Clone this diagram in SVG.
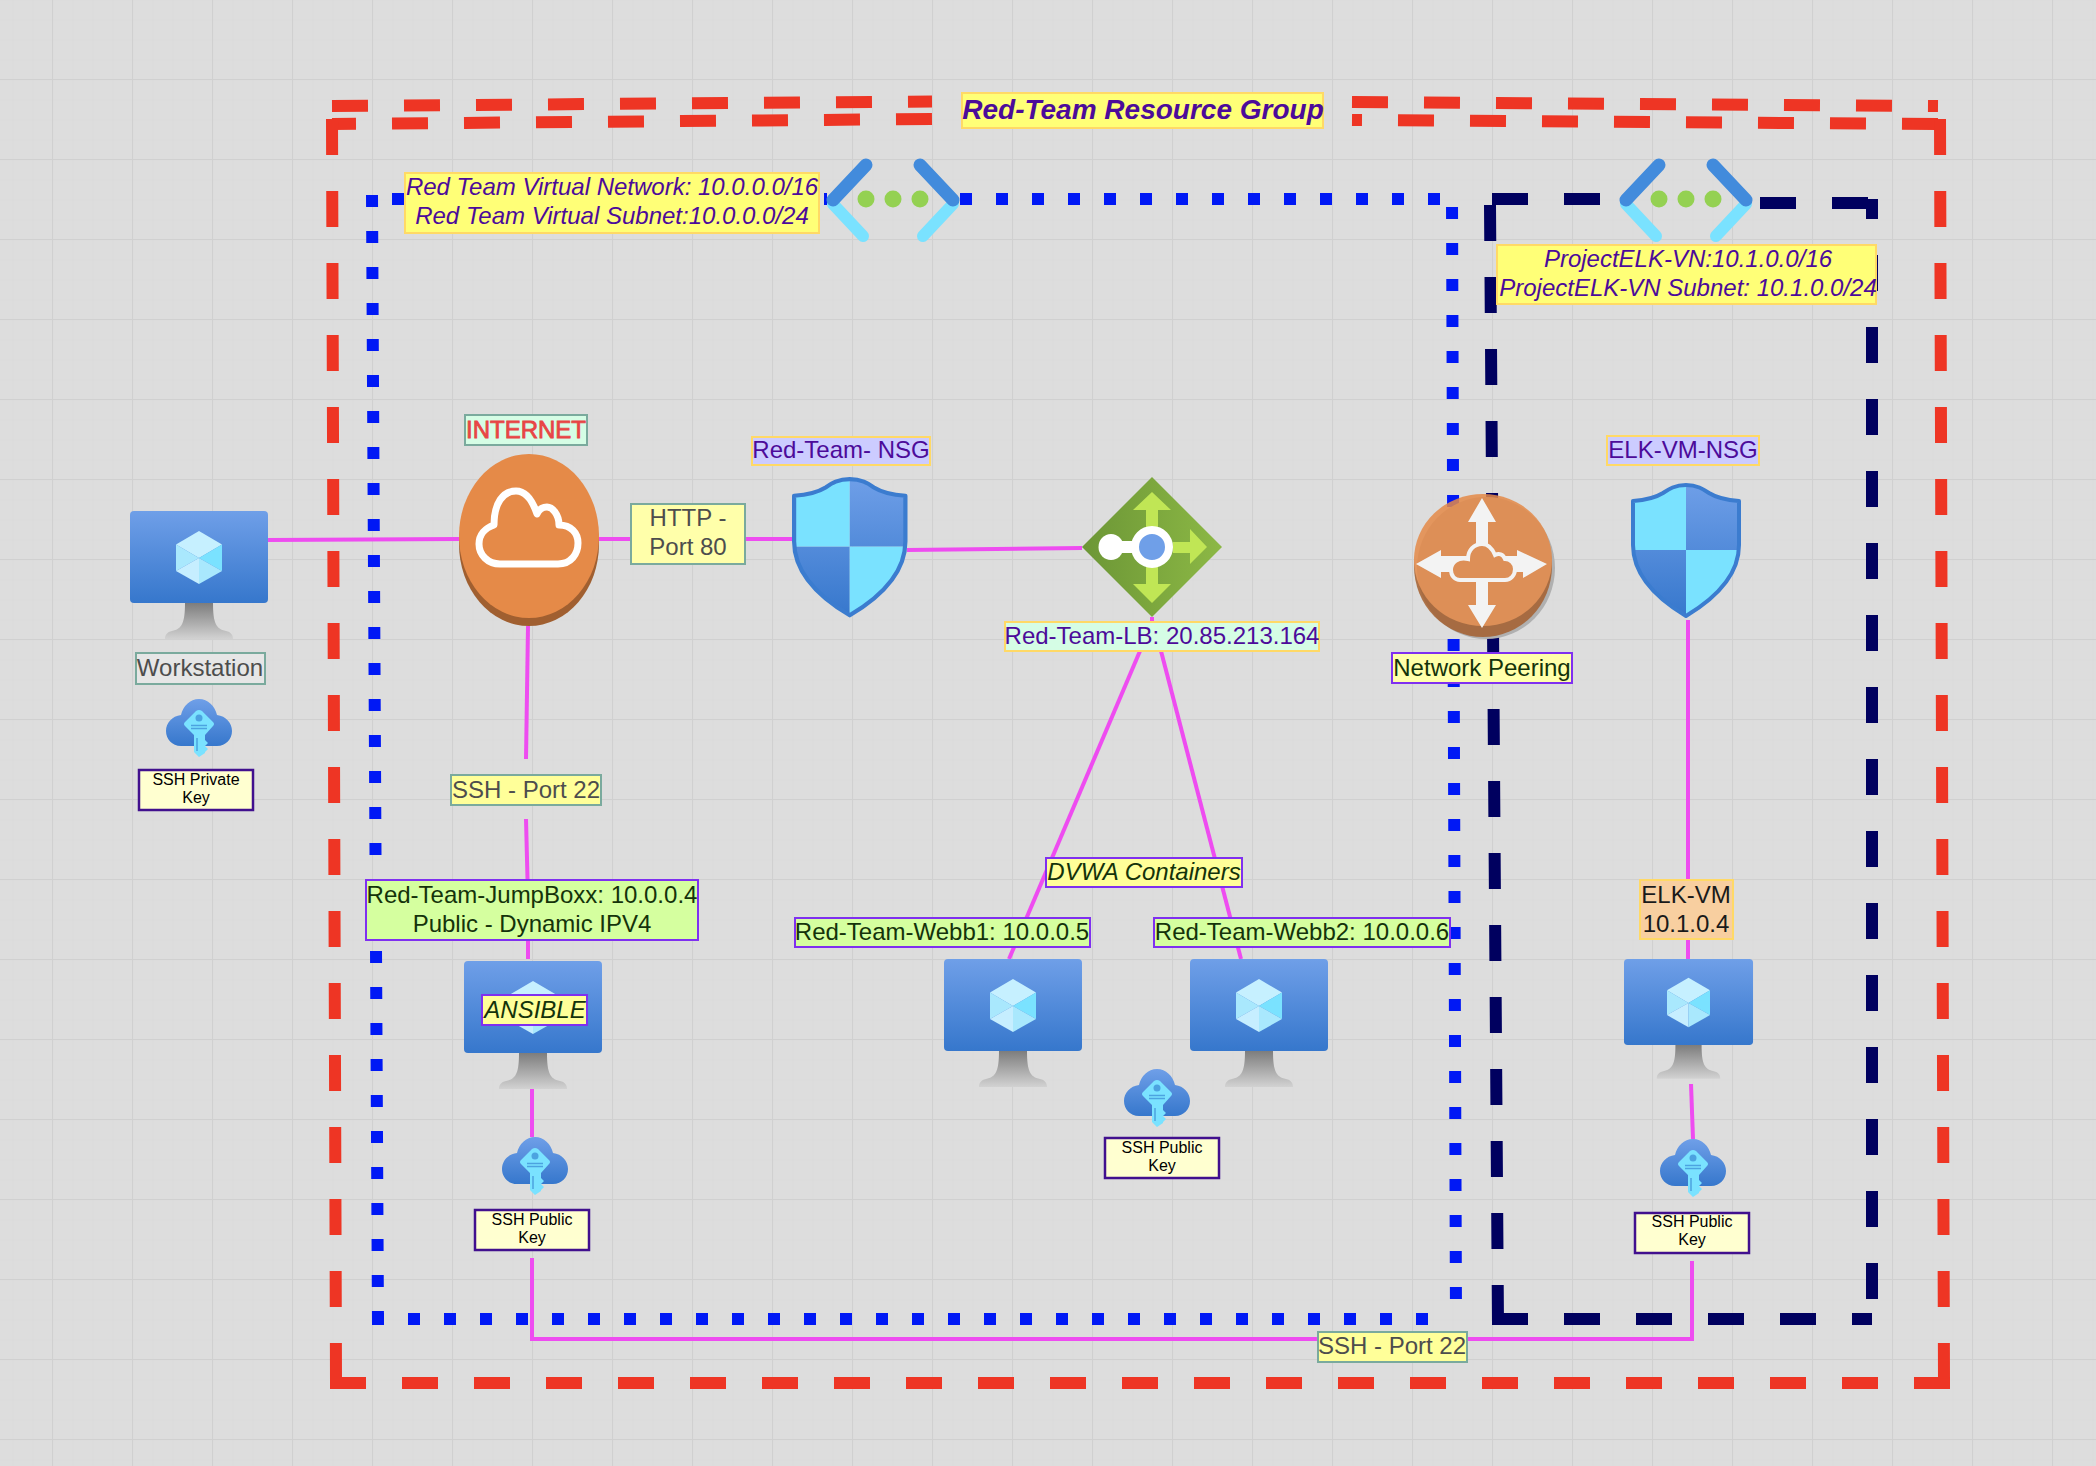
<svg xmlns="http://www.w3.org/2000/svg" width="2096" height="1466" viewBox="0 0 2096 1466">
<style>
text{font-family:"Liberation Sans",Arial,Helvetica,sans-serif;font-size:24px;text-anchor:middle}
.red{fill:none;stroke:#ee3524;stroke-width:12;stroke-dasharray:36 36}
.blue{fill:none;stroke:#0018f5;stroke-width:12;stroke-dasharray:12 24}
.navy{fill:none;stroke:#00005f;stroke-width:12;stroke-dasharray:36 36}
.conn{fill:none;stroke:#ee4cf0;stroke-width:4}
.green-b{stroke:#7aaa9d;stroke-width:2}
.gold-b{stroke:#ffd966;stroke-width:2}
.vio-b{stroke:#7f30f0;stroke-width:2}
.ind-b{stroke:#41108e;stroke-width:2.500}
.grey{fill:#4d4d4d}
.ind{fill:#4c0b9a}
.dk{fill:#14330a}
.small{font-size:16px;fill:#000}
.it{font-style:italic}
</style>
<defs>
<pattern id="minor" width="20" height="20" patternUnits="userSpaceOnUse" x="12.500" y="19.500"><path d="M0.500 0V20M0 0.500H20" fill="none" stroke="#dadada" stroke-width="1"/></pattern>
<pattern id="major" width="80" height="80" patternUnits="userSpaceOnUse" x="52" y="79"><path d="M0.500 0V80M0 0.500H80" fill="none" stroke="#d0d0d0" stroke-width="1"/></pattern>
<linearGradient id="gBlue" x1="0" y1="0" x2="0" y2="1"><stop offset="0" stop-color="#6f9fe8"/><stop offset="1" stop-color="#3677cc"/></linearGradient>
<linearGradient id="gShield" gradientUnits="userSpaceOnUse" x1="0" y1="0" x2="0" y2="135"><stop offset="0" stop-color="#6f9fe8"/><stop offset="1" stop-color="#3677cc"/></linearGradient>
<linearGradient id="gStand" x1="0" y1="0" x2="0" y2="1"><stop offset="0" stop-color="#7d7d7d"/><stop offset="1" stop-color="#d2d2d2"/></linearGradient>
<linearGradient id="gLb" x1="0" y1="0" x2="1" y2="0"><stop offset="0" stop-color="#6c9636"/><stop offset="1" stop-color="#8cb845"/></linearGradient>
<g id="vm">
<rect x="0" y="0" width="138" height="92" rx="4" fill="url(#gBlue)"/>
<path d="M55 92H83C83 112 86 118 96 120C101 121 103 124 103 128H35C35 124 37 121 42 120C52 118 55 112 55 92Z" fill="url(#gStand)"/>
<path d="M69 20L92 33.500L69 47L46 33.500Z" fill="#c6f0ff"/>
<path d="M92 33.500V60L69 47Z" fill="#7ae2ff"/>
<path d="M46 33.500V60L69 47Z" fill="#a9e8fd"/>
<path d="M46 60L69 47V73Z" fill="#c6eeff"/>
<path d="M92 60L69 47V73Z" fill="#a9e8fd"/>
</g>
<g id="key">
<path d="M15 47C6 47 0 40 0 32C0 24 6 17 15 16C17 7 24 0 33 0C42 0 49 7 51 16C60 17 66 24 66 32C66 40 60 47 51 47Z" fill="url(#gBlue)"/>
<path d="M30 12Q33 10 36 12L47 23Q49 25 47 27L39 36V41L42 44L39 47L42 50L39 53V54L33 58L28 53V36L19 27Q17 25 19 23Z" fill="#7ae2ff"/>
<circle cx="33" cy="19" r="3.500" fill="#4ca3e0"/>
<path d="M25 26.500H41M25 29.500H41M31 39V52" fill="none" stroke="#4ca3e0" stroke-width="1.500"/>
</g>
<clipPath id="shClip"><path d="M55 2C66 2 72 6 78 10C86 15 94 17 108 18V62C108 95 80 118 55 133C30 118 2 95 2 62V18C16 17 24 15 32 10C38 6 44 2 55 2Z"/></clipPath>
<g id="shield">
<g clip-path="url(#shClip)">
<rect x="0" y="0" width="55" height="67" fill="#7ae2ff"/>
<rect x="55" y="0" width="55" height="67" fill="url(#gShield)"/>
<rect x="0" y="67" width="55" height="68" fill="url(#gShield)"/>
<rect x="55" y="67" width="55" height="68" fill="#7ae2ff"/>
</g>
<path d="M55 2C66 2 72 6 78 10C86 15 94 17 108 18V62C108 95 80 118 55 133C30 118 2 95 2 62V18C16 17 24 15 32 10C38 6 44 2 55 2Z" fill="none" stroke="#3b7ccf" stroke-width="4" stroke-linejoin="round"/>
</g>
<g id="vnet">
<path d="M7 45L37 77" fill="none" stroke="#7ae2ff" stroke-width="12" stroke-linecap="round"/>
<path d="M127 45L97 77" fill="none" stroke="#7ae2ff" stroke-width="12" stroke-linecap="round"/>
<path d="M40 6L7 41" fill="none" stroke="#428bdc" stroke-width="13" stroke-linecap="round"/>
<path d="M94 6L127 41" fill="none" stroke="#428bdc" stroke-width="13" stroke-linecap="round"/>
<circle cx="40" cy="40" r="8.500" fill="#94d152"/>
<circle cx="67" cy="40" r="8.500" fill="#94d152"/>
<circle cx="94" cy="40" r="8.500" fill="#94d152"/>
</g>
</defs>
<rect id="background" width="2096" height="1466" fill="#dddddd"/>
<rect width="2096" height="1466" fill="url(#minor)"/>
<rect width="2096" height="1466" fill="url(#major)"/>

<g id="boundaries">
<g id="resource-group-boundary">
<path class="red" d="M332 106L932 101.500"/>
<path class="red" stroke-dashoffset="12" d="M332 124L932 119"/>
<path class="red" d="M1352 102L1938 106"/>
<path class="red" stroke-dashoffset="26" d="M1352 120L1938 124"/>
<path class="red" d="M332 119L336 1380"/>
<path class="red" d="M1940 119L1944 1380"/>
<path class="red" d="M330 1383H1950"/>
</g>
<g id="red-vnet-boundary">
<path class="blue" d="M372 195L378 1325"/>
<path class="blue" stroke-dasharray="12 36" d="M392 199H404"/>
<path class="blue" stroke-dasharray="2 30" d="M824 199H827"/>
<path class="blue" d="M960 199H1440"/>
<path class="blue" d="M372 1319H1428"/>
<path class="blue" stroke-dashoffset="28" d="M1452 199L1456 1319"/>
</g>
<g id="elk-vnet-boundary">
<path class="navy" d="M1490 205L1498 1325"/>
<path class="navy" d="M1492 199H1600"/>
<path class="navy" d="M1760 203H1868"/>
<path class="navy" stroke-dashoffset="16" d="M1872 199V1300"/>
<path class="navy" d="M1492 1319H1872"/>
</g>
</g>

<g id="connectors">
<path class="conn" d="M268 540L459 539"/>
<path class="conn" d="M599 539H631"/>
<path class="conn" d="M745 539H792"/>
<path class="conn" d="M907 550L1082 548"/>
<path class="conn" d="M528 626L526 759"/>
<path class="conn" d="M526 819L527.500 879"/>
<path class="conn" d="M528 940V959"/>
<path class="conn" d="M532 1089V1137"/>
<path class="conn" d="M532 1258V1339H1692V1261"/>
<path class="conn" d="M1152 617V621"/>
<path class="conn" d="M1140 651L1009 959"/>
<path class="conn" d="M1161 651L1241 959"/>
<path class="conn" d="M1688 620V959"/>
<path class="conn" d="M1691 1084L1693 1139"/>
</g>

<g id="workstation">
<use href="#vm" x="130" y="511"/>
<rect x="136" y="653" width="129" height="31" fill="#e6e6e6" class="green-b"/>
<text x="200" y="676" class="grey">Workstation</text>
</g>
<g id="workstation-key">
<use href="#key" x="166" y="699"/>
<rect x="139" y="770" width="114" height="40" fill="#ffffd0" class="ind-b"/>
<text x="196" y="785" class="small">SSH Private</text>
<text x="196" y="803" class="small">Key</text>
</g>
<g id="internet">
<ellipse cx="529" cy="544" rx="70" ry="82" fill="#a05f30"/>
<ellipse cx="529" cy="536" rx="70" ry="82" fill="#e58a48"/>
<path d="M500 564H558C571 564 578 554 578 543C578 533 571 525 559 525C559 514 552 507 547 507C543 507 539 509 537 514C532 499 525 491 516 491C503 491 494 503 494 525C485 528 479 535 479 544C479 555 488 564 500 564Z" fill="none" stroke="#ffffff" stroke-width="7" stroke-linejoin="round"/>
<rect x="465" y="415" width="122" height="30" fill="#d5fde5" class="green-b"/>
<text x="526" y="438" fill="#e84545" stroke="#e84545" stroke-width="0.800">INTERNET</text>
</g>
<g id="http-port-80">
<rect x="631" y="504" width="114" height="60" fill="#ffffaa" class="green-b"/>
<text x="688" y="526" class="grey">HTTP -</text>
<text x="688" y="555" class="grey">Port 80</text>
</g>
<g id="ssh-port-22-upper">
<rect x="451" y="775" width="150" height="30" fill="#ffff99" class="green-b"/>
<text x="526" y="798" class="grey">SSH - Port 22</text>
</g>
<g id="red-team-nsg">
<use href="#shield" transform="translate(792 477) scale(1.050 1.040)"/>
<rect x="752" y="437" width="178" height="28" fill="#ccccff" class="gold-b"/>
<text x="841" y="458" class="ind">Red-Team- NSG</text>
</g>
<g id="red-team-lb">
<path d="M1152 477L1222 547L1152 617L1082 547Z" fill="url(#gLb)"/>
<path d="M1152 492L1171 510H1158V584H1171L1152 603L1133 584H1146V510H1133ZM1173 542H1190V529L1207 547L1190 564V553H1173Z" fill="#c0e655"/>
<path d="M1111 541H1135V553H1111Z" fill="#ffffff"/>
<ellipse cx="1111" cy="547" rx="12.500" ry="13" fill="#ffffff"/>
<ellipse cx="1152" cy="547" rx="17" ry="17" fill="#6f9fe8" stroke="#ffffff" stroke-width="8"/>
<rect x="1005" y="622" width="314" height="29" fill="#d5fde5" class="gold-b"/>
<text x="1162" y="644" class="ind">Red-Team-LB: 20.85.213.164</text>
</g>
<g id="network-peering">
<ellipse cx="1486" cy="568" rx="69" ry="71" fill="#b0b0b0"/>
<g opacity="0.85">
<ellipse cx="1483" cy="566" rx="69" ry="71" fill="#a5602f"/>
<ellipse cx="1483" cy="560" rx="69" ry="66" fill="#e58a48"/>
<path d="M1482 498L1496 522H1488V556H1517V550L1547 564L1523 578V572H1488V605H1496L1482 628L1468 605H1476V572H1441V578L1416 564L1441 550V556H1476V522H1468Z" fill="#ffffff"/>
<path d="M1460 580H1505C1511 580 1515 575 1515 569C1515 563 1510 559 1505 559C1503 554 1499 553 1495 555C1492 548 1488 544 1482 544C1474 544 1468 550 1468 559C1458 557 1451 562 1451 570C1451 576 1455 580 1460 580Z" fill="#e58a48" stroke="#ffffff" stroke-width="4"/>
</g>
<rect x="1392" y="653" width="180" height="30" fill="#ffffaa" class="vio-b"/>
<text x="1482" y="676" class="dk">Network Peering</text>
</g>
<g id="dvwa-containers">
<rect x="1046" y="858" width="196" height="29" fill="#ffff99" class="vio-b"/>
<text x="1144" y="880" class="dk it">DVWA Containers</text>
</g>
<g id="red-team-jumpboxx">
<use href="#vm" x="464" y="961"/>
<rect x="366" y="880" width="332" height="60" fill="#d5ff9f" class="vio-b"/>
<text x="532" y="903" class="dk">Red-Team-JumpBoxx: 10.0.0.4</text>
<text x="532" y="932" class="dk">Public - Dynamic IPV4</text>
<rect x="482" y="995" width="105" height="30" fill="#ffff99" class="vio-b"/>
<text x="535" y="1018" class="dk it">ANSIBLE</text>
</g>
<g id="jumpbox-key">
<use href="#key" x="502" y="1137"/>
<rect x="475" y="1210" width="114" height="40" fill="#ffffd0" class="ind-b"/>
<text x="532" y="1225" class="small">SSH Public</text>
<text x="532" y="1243" class="small">Key</text>
</g>
<g id="red-team-webb1">
<use href="#vm" x="944" y="959"/>
<rect x="795" y="918" width="295" height="29" fill="#d5ff9f" class="vio-b"/>
<text x="942" y="940" class="dk">Red-Team-Webb1: 10.0.0.5</text>
</g>
<g id="red-team-webb2">
<use href="#vm" x="1190" y="959"/>
<rect x="1154" y="918" width="296" height="29" fill="#d5ff9f" class="vio-b"/>
<text x="1302" y="940" class="dk">Red-Team-Webb2: 10.0.0.6</text>
</g>
<g id="webb-key">
<use href="#key" x="1124" y="1069"/>
<rect x="1105" y="1138" width="114" height="40" fill="#ffffd0" class="ind-b"/>
<text x="1162" y="1153" class="small">SSH Public</text>
<text x="1162" y="1171" class="small">Key</text>
</g>
<g id="elk-vm-nsg">
<use href="#shield" x="1631" y="483"/>
<rect x="1607" y="436" width="152" height="29" fill="#ccccff" class="gold-b"/>
<text x="1683" y="458" class="ind">ELK-VM-NSG</text>
</g>
<g id="elk-vm">
<rect x="1640" y="880" width="93" height="59" fill="#f8cfa0" class="gold-b"/>
<text x="1686" y="903" fill="#1a1a1a">ELK-VM</text>
<text x="1686" y="932" fill="#1a1a1a">10.1.0.4</text>
<use href="#vm" transform="translate(1624 959) scale(0.935)"/>
</g>
<g id="elk-key">
<use href="#key" x="1660" y="1139"/>
<rect x="1635" y="1213" width="114" height="40" fill="#ffffd0" class="ind-b"/>
<text x="1692" y="1227" class="small">SSH Public</text>
<text x="1692" y="1245" class="small">Key</text>
</g>
<g id="ssh-port-22-lower">
<rect x="1318" y="1332" width="149" height="30" fill="#ffff99" class="green-b"/>
<text x="1392" y="1354" class="grey">SSH - Port 22</text>
</g>
<g id="resource-group-title">
<rect x="962" y="93" width="361" height="35" fill="#ffff77" class="gold-b"/>
<text x="1143" y="119" class="ind it" font-weight="bold" style="font-size:28px">Red-Team Resource Group</text>
</g>
<g id="red-team-vnet">
<use href="#vnet" x="826" y="159"/>
<rect x="405" y="173" width="414" height="60" fill="#ffff77" class="gold-b"/>
<text x="612" y="195" class="ind it">Red Team Virtual Network: 10.0.0.0/16</text>
<text x="612" y="224" class="ind it">Red Team Virtual Subnet:10.0.0.0/24</text>
</g>
<g id="elk-vnet">
<use href="#vnet" x="1619" y="159"/>
<rect x="1497" y="245" width="379" height="59" fill="#ffff77" class="gold-b"/>
<text x="1688" y="267" class="ind it">ProjectELK-VN:10.1.0.0/16</text>
<text x="1688" y="296" class="ind it">ProjectELK-VN Subnet: 10.1.0.0/24</text>
</g>
</svg>
